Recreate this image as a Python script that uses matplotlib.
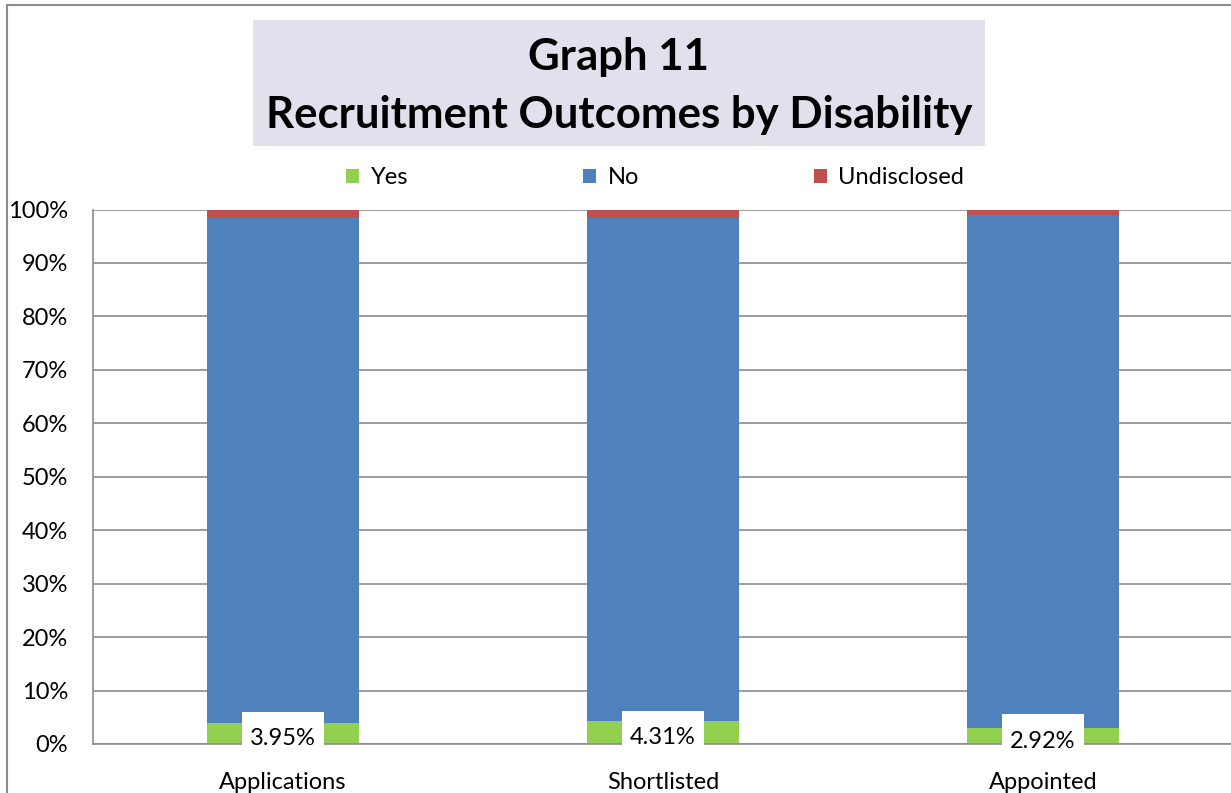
import matplotlib
matplotlib.use("Agg")
import matplotlib.pyplot as plt
from matplotlib.patches import Rectangle, Patch
from matplotlib.ticker import MultipleLocator, FuncFormatter

plt.rcParams['font.family'] = ['Lato', 'DejaVu Sans']

categories = ["Applications", "Shortlisted", "Appointed"]
yes_pct = [3.95, 4.31, 2.92]
undisclosed_pct = [1.5, 1.5, 1.1]
no_pct = [100 - y - u for y, u in zip(yes_pct, undisclosed_pct)]
series_names = ["Yes", "No", "Undisclosed"]
colors = ["#92D050", "#4F81BD", "#C0504D"]

W, H = 1231, 793
fig = plt.figure(figsize=(W / 100, H / 100), dpi=100)

# outer chart frame
fig.patches.append(Rectangle((7 / W, -0.2), 1.2, 1.2 - 5 / H, transform=fig.transFigure,
                             fill=False, edgecolor="#8c8c8c", linewidth=1.5))

# title box
fig.patches.append(Rectangle((253 / W, 1 - 146 / H), 732 / W, 126 / H,
                             transform=fig.transFigure, facecolor="#E4DFEC",
                             edgecolor="none"))
fig.text(619 / W, 1 - 57 / H, "Graph 11", ha="center", va="center",
         fontsize=31.5, fontweight="bold")
fig.text(619 / W, 1 - 115 / H, "Recruitment Outcomes by Disability", ha="center",
         va="center", fontsize=31.5, fontweight="bold")

ax = fig.add_axes([93 / W, (H - 744) / H, 1140 / W, 534.5 / H])
x = range(len(categories))
bw = 0.40
ax.bar(x, yes_pct, bw, color=colors[0], zorder=2)
ax.bar(x, no_pct, bw, bottom=yes_pct, color=colors[1], zorder=2)
ax.bar(x, undisclosed_pct, bw, bottom=[a + b for a, b in zip(yes_pct, no_pct)],
       color=colors[2], zorder=2)

ax.set_xlim(-0.5, 2.5)
ax.set_ylim(0, 100)
ax.yaxis.set_major_locator(MultipleLocator(10))
ax.yaxis.set_major_formatter(FuncFormatter(lambda v, p: f"{v:.0f}%"))
ax.grid(axis="y", color="#8c8c8c", linewidth=1.2, zorder=0)
ax.set_axisbelow(True)
for s in ["top", "right"]:
    ax.spines[s].set_visible(False)
for s in ["left", "bottom"]:
    ax.spines[s].set_color("#8c8c8c")
    ax.spines[s].set_linewidth(1.2)
ax.tick_params(axis="y", length=0, labelsize=17, pad=18)
ax.tick_params(axis="x", length=0, labelsize=17, pad=20)
ax.set_xticks(list(x))
ax.set_xticklabels(categories)

# value labels on the "Yes" segment, on a white label box
box_w, box_h = 0.218, 10.1
for i, v in enumerate(yes_pct):
    yc = v / 2 - 0.95
    ax.add_patch(Rectangle((i - box_w / 2, yc - box_h / 2), box_w, box_h,
                           facecolor="white", edgecolor="none", zorder=4,
                           clip_on=False))
    ax.text(i, yc, f"{v:.2f}%", ha="center", va="center", fontsize=17,
            zorder=5, clip_on=False)

handles = [Patch(facecolor=c, edgecolor="none") for c in colors]
fig.legend(handles, series_names, loc="center", bbox_to_anchor=(655 / W, 1 - 178 / H),
           ncol=3, frameon=False, fontsize=17, handlelength=0.55, handleheight=0.55,
           handletextpad=0.5, columnspacing=7.4)

fig.savefig("out.png", dpi=100)
